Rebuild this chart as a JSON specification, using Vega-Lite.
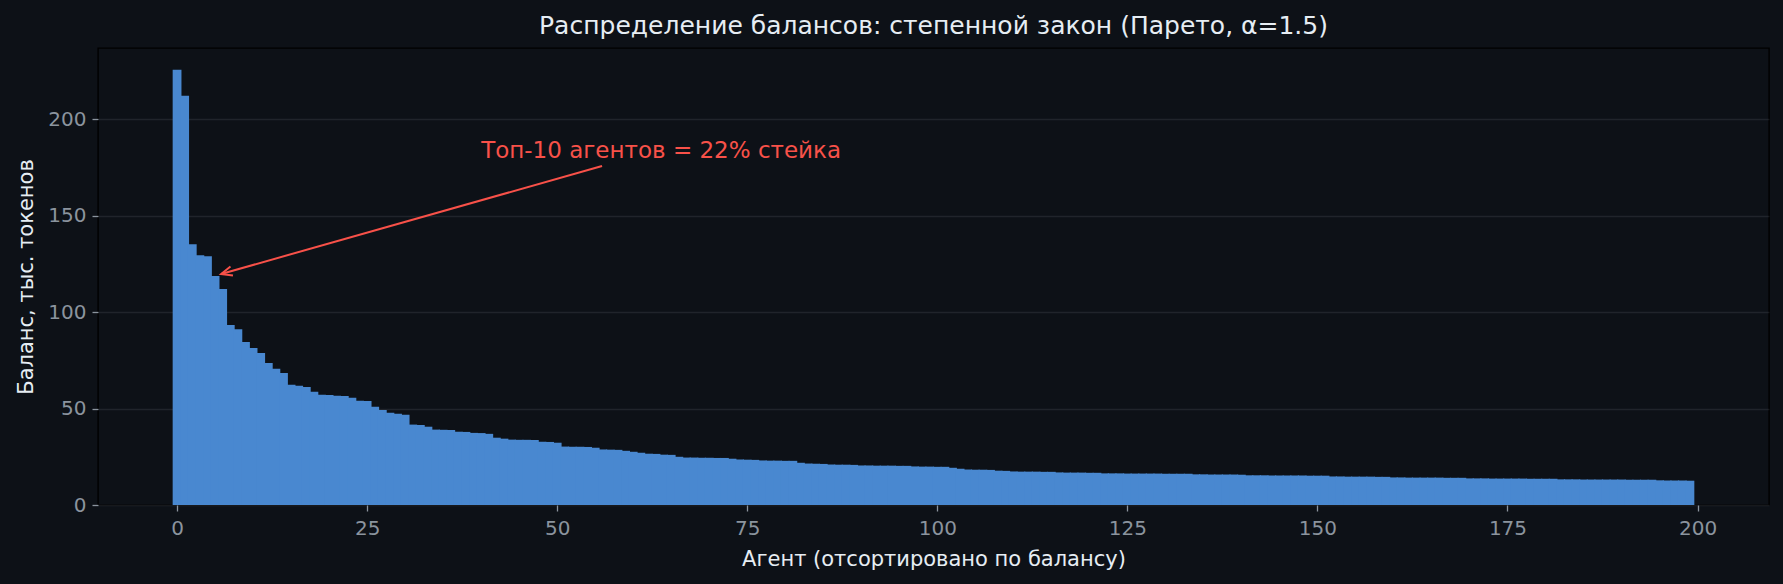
{
  "$schema": "https://vega.github.io/schema/vega-lite/v6.json",
  "width": 1671,
  "height": 457,
  "autosize": {"type": "none"},
  "padding": {"left": 98, "top": 48, "right": 14, "bottom": 79},
  "background": "#0d1117",
  "title": {
    "text": "Распределение балансов: степенной закон (Парето, α=1.5)",
    "fontSize": 25,
    "font": "DejaVu Sans",
    "fontWeight": "normal",
    "color": "#e6edf3",
    "anchor": "middle",
    "offset": 9
  },
  "datasets": {
    "bars": [
      {"agent": 0, "balance": 225.7}, {"agent": 1, "balance": 212.3}, {"agent": 2, "balance": 135.2}, {"agent": 3, "balance": 129.5},
      {"agent": 4, "balance": 129.0}, {"agent": 5, "balance": 118.7}, {"agent": 6, "balance": 112.0}, {"agent": 7, "balance": 93.3},
      {"agent": 8, "balance": 91.2}, {"agent": 9, "balance": 84.5}, {"agent": 10, "balance": 81.4}, {"agent": 11, "balance": 78.8},
      {"agent": 12, "balance": 73.7}, {"agent": 13, "balance": 70.6}, {"agent": 14, "balance": 68.5}, {"agent": 15, "balance": 62.3},
      {"agent": 16, "balance": 61.8}, {"agent": 17, "balance": 61.2}, {"agent": 18, "balance": 58.7}, {"agent": 19, "balance": 57.2},
      {"agent": 20, "balance": 57.0}, {"agent": 21, "balance": 56.7}, {"agent": 22, "balance": 56.5}, {"agent": 23, "balance": 55.6},
      {"agent": 24, "balance": 54.1}, {"agent": 25, "balance": 53.9}, {"agent": 26, "balance": 50.9}, {"agent": 27, "balance": 49.3},
      {"agent": 28, "balance": 47.8}, {"agent": 29, "balance": 47.3}, {"agent": 30, "balance": 46.8}, {"agent": 31, "balance": 41.7},
      {"agent": 32, "balance": 41.5}, {"agent": 33, "balance": 40.6}, {"agent": 34, "balance": 39.1}, {"agent": 35, "balance": 39.0},
      {"agent": 36, "balance": 38.9}, {"agent": 37, "balance": 38.0}, {"agent": 38, "balance": 37.9}, {"agent": 39, "balance": 37.4},
      {"agent": 40, "balance": 37.3}, {"agent": 41, "balance": 36.9}, {"agent": 42, "balance": 34.9}, {"agent": 43, "balance": 34.4},
      {"agent": 44, "balance": 33.9}, {"agent": 45, "balance": 33.8}, {"agent": 46, "balance": 33.8}, {"agent": 47, "balance": 33.7},
      {"agent": 48, "balance": 32.8}, {"agent": 49, "balance": 32.7}, {"agent": 50, "balance": 32.3}, {"agent": 51, "balance": 30.3},
      {"agent": 52, "balance": 30.2}, {"agent": 53, "balance": 30.2}, {"agent": 54, "balance": 30.1}, {"agent": 55, "balance": 29.7},
      {"agent": 56, "balance": 28.8}, {"agent": 57, "balance": 28.7}, {"agent": 58, "balance": 28.6}, {"agent": 59, "balance": 28.1},
      {"agent": 60, "balance": 27.6}, {"agent": 61, "balance": 27.1}, {"agent": 62, "balance": 26.6}, {"agent": 63, "balance": 26.5},
      {"agent": 64, "balance": 26.1}, {"agent": 65, "balance": 26.0}, {"agent": 66, "balance": 25.0}, {"agent": 67, "balance": 24.6},
      {"agent": 68, "balance": 24.6}, {"agent": 69, "balance": 24.5}, {"agent": 70, "balance": 24.5}, {"agent": 71, "balance": 24.4},
      {"agent": 72, "balance": 24.4}, {"agent": 73, "balance": 24.0}, {"agent": 74, "balance": 23.6}, {"agent": 75, "balance": 23.5},
      {"agent": 76, "balance": 23.4}, {"agent": 77, "balance": 23.1}, {"agent": 78, "balance": 23.0}, {"agent": 79, "balance": 23.0},
      {"agent": 80, "balance": 22.9}, {"agent": 81, "balance": 22.9}, {"agent": 82, "balance": 21.9}, {"agent": 83, "balance": 21.5},
      {"agent": 84, "balance": 21.4}, {"agent": 85, "balance": 21.3}, {"agent": 86, "balance": 21.0}, {"agent": 87, "balance": 20.9},
      {"agent": 88, "balance": 20.9}, {"agent": 89, "balance": 20.8}, {"agent": 90, "balance": 20.5}, {"agent": 91, "balance": 20.5},
      {"agent": 92, "balance": 20.4}, {"agent": 93, "balance": 20.4}, {"agent": 94, "balance": 20.4}, {"agent": 95, "balance": 20.3},
      {"agent": 96, "balance": 20.3}, {"agent": 97, "balance": 20.0}, {"agent": 98, "balance": 19.9}, {"agent": 99, "balance": 19.9},
      {"agent": 100, "balance": 19.8}, {"agent": 101, "balance": 19.8}, {"agent": 102, "balance": 19.3}, {"agent": 103, "balance": 18.8},
      {"agent": 104, "balance": 18.4}, {"agent": 105, "balance": 18.3}, {"agent": 106, "balance": 18.3}, {"agent": 107, "balance": 18.2},
      {"agent": 108, "balance": 17.8}, {"agent": 109, "balance": 17.7}, {"agent": 110, "balance": 17.4}, {"agent": 111, "balance": 17.3},
      {"agent": 112, "balance": 17.3}, {"agent": 113, "balance": 17.3}, {"agent": 114, "balance": 17.2}, {"agent": 115, "balance": 17.2},
      {"agent": 116, "balance": 16.9}, {"agent": 117, "balance": 16.8}, {"agent": 118, "balance": 16.8}, {"agent": 119, "balance": 16.8},
      {"agent": 120, "balance": 16.7}, {"agent": 121, "balance": 16.7}, {"agent": 122, "balance": 16.4}, {"agent": 123, "balance": 16.4},
      {"agent": 124, "balance": 16.4}, {"agent": 125, "balance": 16.3}, {"agent": 126, "balance": 16.3}, {"agent": 127, "balance": 16.3},
      {"agent": 128, "balance": 16.3}, {"agent": 129, "balance": 16.3}, {"agent": 130, "balance": 16.2}, {"agent": 131, "balance": 16.2},
      {"agent": 132, "balance": 16.2}, {"agent": 133, "balance": 16.2}, {"agent": 134, "balance": 15.9}, {"agent": 135, "balance": 15.9},
      {"agent": 136, "balance": 15.8}, {"agent": 137, "balance": 15.8}, {"agent": 138, "balance": 15.8}, {"agent": 139, "balance": 15.8},
      {"agent": 140, "balance": 15.7}, {"agent": 141, "balance": 15.4}, {"agent": 142, "balance": 15.4}, {"agent": 143, "balance": 15.4},
      {"agent": 144, "balance": 15.3}, {"agent": 145, "balance": 15.3}, {"agent": 146, "balance": 15.3}, {"agent": 147, "balance": 15.3},
      {"agent": 148, "balance": 15.3}, {"agent": 149, "balance": 15.2}, {"agent": 150, "balance": 15.2}, {"agent": 151, "balance": 15.2},
      {"agent": 152, "balance": 14.8}, {"agent": 153, "balance": 14.8}, {"agent": 154, "balance": 14.7}, {"agent": 155, "balance": 14.7},
      {"agent": 156, "balance": 14.7}, {"agent": 157, "balance": 14.7}, {"agent": 158, "balance": 14.6}, {"agent": 159, "balance": 14.6},
      {"agent": 160, "balance": 14.3}, {"agent": 161, "balance": 14.3}, {"agent": 162, "balance": 14.2}, {"agent": 163, "balance": 14.2},
      {"agent": 164, "balance": 14.2}, {"agent": 165, "balance": 14.2}, {"agent": 166, "balance": 14.2}, {"agent": 167, "balance": 14.1},
      {"agent": 168, "balance": 14.1}, {"agent": 169, "balance": 14.1}, {"agent": 170, "balance": 13.8}, {"agent": 171, "balance": 13.8},
      {"agent": 172, "balance": 13.8}, {"agent": 173, "balance": 13.7}, {"agent": 174, "balance": 13.7}, {"agent": 175, "balance": 13.7},
      {"agent": 176, "balance": 13.7}, {"agent": 177, "balance": 13.7}, {"agent": 178, "balance": 13.6}, {"agent": 179, "balance": 13.6},
      {"agent": 180, "balance": 13.6}, {"agent": 181, "balance": 13.6}, {"agent": 182, "balance": 13.3}, {"agent": 183, "balance": 13.3},
      {"agent": 184, "balance": 13.3}, {"agent": 185, "balance": 13.2}, {"agent": 186, "balance": 13.2}, {"agent": 187, "balance": 13.2},
      {"agent": 188, "balance": 13.2}, {"agent": 189, "balance": 13.2}, {"agent": 190, "balance": 13.2}, {"agent": 191, "balance": 13.1},
      {"agent": 192, "balance": 13.1}, {"agent": 193, "balance": 13.1}, {"agent": 194, "balance": 13.1}, {"agent": 195, "balance": 12.8},
      {"agent": 196, "balance": 12.7}, {"agent": 197, "balance": 12.7}, {"agent": 198, "balance": 12.7}, {"agent": 199, "balance": 12.6}
    ],
    "arrow": [
      {"agent": 55.9, "balance": 175.8, "agent_end": 5.8, "balance_end": 119.8}
    ],
    "tip": [
      {"agent": 5.8, "balance": 119.8}
    ],
    "note": [
      {"agent": 40, "balance": 180, "label": "Топ-10 агентов = 22% стейка"}
    ]
  },
  "encoding": {
    "x": {
      "field": "agent",
      "type": "quantitative",
      "title": "Агент (отсортировано по балансу)",
      "scale": {"domain": [-10.4, 209.4], "nice": false, "zero": false, "padding": 0},
      "axis": {"values": [0, 25, 50, 75, 100, 125, 150, 175, 200], "grid": false, "labelPadding": 7, "titlePadding": 10}
    },
    "y": {
      "field": "balance",
      "type": "quantitative",
      "title": "Баланс, тыс. токенов",
      "scale": {"domain": [0, 237], "nice": false, "padding": 0},
      "axis": {"values": [0, 50, 100, 150, 200], "grid": true, "labelPadding": 6, "titlePadding": 11}
    }
  },
  "layer": [
    {
      "data": {"name": "bars"},
      "mark": {"type": "bar", "orient": "vertical", "width": 8.8, "color": "#4988d0", "strokeWidth": 0}
    },
    {
      "data": {"name": "arrow"},
      "mark": {"type": "rule", "color": "#f85149", "strokeWidth": 2},
      "encoding": {
        "x2": {"field": "agent_end"},
        "y2": {"field": "balance_end"}
      }
    },
    {
      "data": {"name": "tip"},
      "mark": {
        "type": "point",
        "shape": "M -1 -0.42 L 0 0 L -1 0.42",
        "angle": 164.2,
        "size": 484,
        "filled": false,
        "stroke": "#f85149",
        "strokeWidth": 2,
        "opacity": 1
      }
    },
    {
      "data": {"name": "note"},
      "mark": {
        "type": "text",
        "align": "left",
        "baseline": "alphabetic",
        "fontSize": 23,
        "font": "DejaVu Sans",
        "color": "#f85149"
      },
      "encoding": {
        "text": {"field": "label"}
      }
    }
  ],
  "config": {
    "view": {"fill": "#0d1117", "stroke": "#000000", "strokeWidth": 1.4},
    "axis": {
      "domain": false,
      "zindex": 1,
      "labelFont": "DejaVu Sans",
      "labelFontSize": 20,
      "labelColor": "#8b949e",
      "tickColor": "#8b949e",
      "tickSize": 6,
      "tickWidth": 1.3,
      "titleFont": "DejaVu Sans",
      "titleFontSize": 21,
      "titleFontWeight": "normal",
      "titleColor": "#e6edf3",
      "gridColor": "#8b949e",
      "gridOpacity": 0.15,
      "gridWidth": 1.5
    }
  }
}
